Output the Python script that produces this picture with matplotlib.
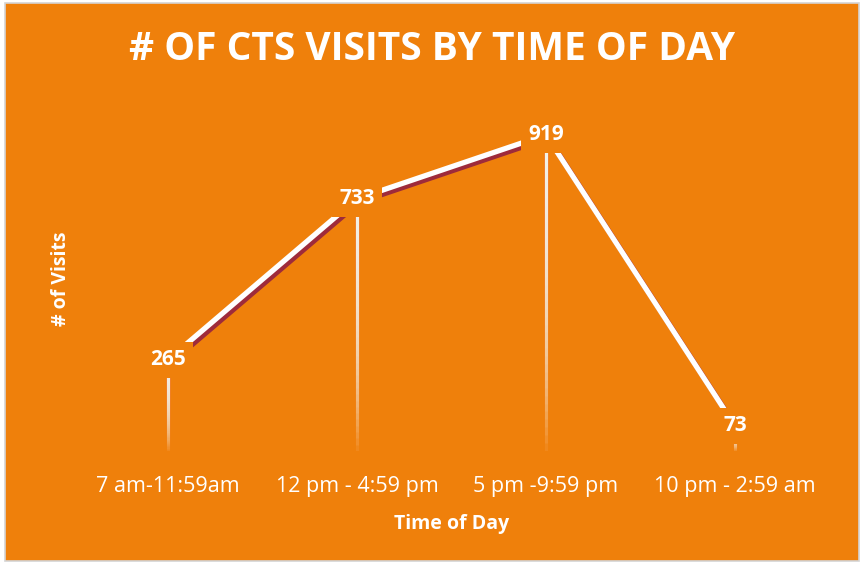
import numpy as np
import matplotlib
matplotlib.use("Agg")
import matplotlib.pyplot as plt
import matplotlib.patheffects as pe
from matplotlib.collections import LineCollection
from matplotlib.patches import Rectangle

categories = ["7 am-11:59am", "12 pm - 4:59 pm", "5 pm -9:59 pm", "10 pm - 2:59 am"]
visits = [265, 733, 919, 73]

ORANGE = "#EF800B"
SHADOW = "#9E2B3B"

plt.rcParams['font.family'] = ['Open Sans', 'DejaVu Sans']

fig = plt.figure(figsize=(8.64, 5.64), dpi=100)
fig.patch.set_facecolor("white")
fig.patches.append(Rectangle((0.006, 0.006), 0.988, 0.988, transform=fig.transFigure,
                             facecolor=ORANGE, edgecolor="#d4d4d4", linewidth=1.2, zorder=-1))

ax = fig.add_axes([0.085, 0.2004, 0.875, 0.610])
ax.set_facecolor("none")
x = np.arange(len(categories))
ax.set_xlim(-0.5, len(categories) - 0.5)
ax.set_ylim(0, 1000)

# drop lines fading toward the baseline (stacked translucent segments)
for xi, v in zip(x, visits):
    starts = np.linspace(0, v, 40, endpoint=False)
    segs = [[(xi, s), (xi, v)] for s in starts]
    ax.add_collection(LineCollection(segs, colors=[(1, 1, 1, 0.07)] * len(segs),
                                     linewidths=2.3, capstyle="butt", zorder=2))

ax.plot(x, visits, color="white", linewidth=3.8, solid_capstyle="butt", zorder=3,
        path_effects=[pe.SimpleLineShadow(offset=(1.8, -2.4), shadow_color=SHADOW, alpha=1),
                      pe.Normal()])

for xi, v in zip(x, visits):
    ax.text(xi, v, str(v), ha="center", va="center", color="white", fontsize=15,
            fontweight="bold", zorder=5,
            bbox=dict(boxstyle="square,pad=0.35", facecolor=ORANGE, edgecolor="none"))

ax.set_xticks(x)
ax.set_xticklabels(categories, color="white", fontsize=15.5)
ax.tick_params(axis="x", length=0, pad=18)
ax.set_yticks([])
for s in ax.spines.values():
    s.set_visible(False)

ax.set_xlabel("Time of Day", color="white", fontsize=14, fontweight="bold", labelpad=12)
ax.set_ylabel("# of Visits", color="white", fontsize=14, fontweight="bold", labelpad=2)

fig.text(0.5, 0.913, "# OF CTS VISITS BY TIME OF DAY", ha="center", va="center",
         color="white", fontsize=28, fontweight="bold")

fig.savefig("out.png", dpi=100, facecolor=fig.get_facecolor())
